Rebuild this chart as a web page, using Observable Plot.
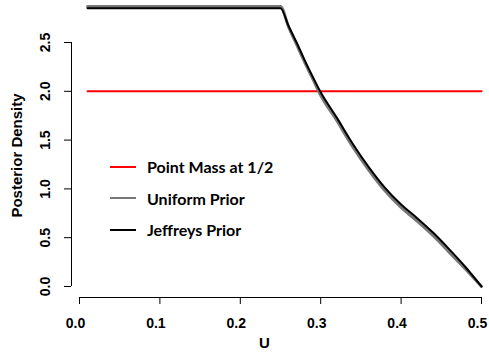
<!DOCTYPE html>
<html>
<head>
<meta charset="utf-8">
<script src="https://cdn.jsdelivr.net/npm/d3@7"></script>
<script src="https://cdn.jsdelivr.net/npm/@observablehq/plot@0.6"></script>
<style>
  html, body { margin: 0; padding: 0; background: #fff; }
  #wrap { position: relative; width: 489px; height: 353px; }
  #legend { position: absolute; left: 110px; top: 151px; font-family: Lato, "Liberation Sans", sans-serif;
            font-weight: bold; font-size: 16px; color: #000; }
  .row { display: flex; align-items: center; height: 31.5px; }
  .sw { width: 26px; height: 2px; margin-right: 11px; }
</style>
</head>
<body>
<div id="wrap"><div id="chart"></div><div id="legend"></div></div>
<script>
// Grid of U values
const uValues = [0.01, 0.25, 0.26, 0.27, 0.28, 0.29, 0.30, 0.32, 0.34, 0.36, 0.38, 0.40, 0.42, 0.44, 0.46, 0.48, 0.50];
// Posterior densities
const jeffreysDensity = [2.85, 2.85, 2.67, 2.50, 2.32, 2.15, 1.99, 1.73, 1.46, 1.22, 1.01, 0.84, 0.70, 0.55, 0.38, 0.20, 0.0];
const uniformDensity  = [2.87, 2.87, 2.66, 2.48, 2.30, 2.13, 1.96, 1.70, 1.43, 1.19, 0.98, 0.81, 0.67, 0.52, 0.35, 0.18, 0.0];
const pointMassU = [0.01, 0.5];
const pointMassDensity = [2.0, 2.0];

const xTicks = [0.0, 0.1, 0.2, 0.3, 0.4, 0.5];
const yTicks = [0.0, 0.5, 1.0, 1.5, 2.0, 2.5];

const legendLabels = ["Point Mass at 1/2", "Uniform Prior", "Jeffreys Prior"];
const legendColors = ["#ff0000", "#777777", "#000000"];

const uniform = uValues.map((u, i) => ({u, d: uniformDensity[i]}));
const jeffreys = uValues.map((u, i) => ({u, d: jeffreysDensity[i]}));
const pointMass = pointMassU.map((u, i) => ({u, d: pointMassDensity[i]}));

const font = "Liberation Sans, Arial, sans-serif";

const plot = Plot.plot({
  width: 489,
  height: 353,
  marginLeft: 79,
  marginRight: 8,
  marginTop: 42,
  marginBottom: 67,
  style: {fontFamily: font},
  x: {domain: [0, 0.5], axis: null},
  y: {domain: [0, 2.5], axis: null},
  marks: [
    // axis lines
    Plot.ruleX([0], {y1: 0, y2: 2.5, dx: -8, stroke: "#000", strokeWidth: 1}),
    Plot.ruleY([0], {x1: 0, x2: 0.5, dy: 11, stroke: "#000", strokeWidth: 1}),
    // ticks
    Plot.ruleY(yTicks, {y: d => d, x1: 0, x2: 0, insetLeft: -7, dx: -8, stroke: "#000"}),
    Plot.ruleX(xTicks, {x: d => d, y1: 0, y2: 0, insetBottom: -7, dy: 11, stroke: "#000"}),
    // tick labels
    Plot.text(yTicks, {y: d => d, text: d => d.toFixed(1), frameAnchor: "left", dx: -34, rotate: -90,
      textAnchor: "middle", fontSize: 14, fontWeight: "bold", fill: "#000"}),
    Plot.text(xTicks, {x: d => d, text: d => d.toFixed(1), frameAnchor: "bottom", dy: 41, dx: -4,
      textAnchor: "middle", fontSize: 14, fontWeight: "bold", fill: "#000"}),
    // axis titles
    Plot.text(["U"], {frameAnchor: "bottom", dx: -16, dy: 61, text: d => d, fontSize: 15, fontWeight: "bold", fill: "#000"}),
    Plot.text(["Posterior Density"], {frameAnchor: "left", dx: -62, dy: -9, rotate: -90, textAnchor: "middle",
      text: d => d, fontSize: 15, fontWeight: "bold", fill: "#000"}),
    // series
    Plot.line(pointMass, {x: "u", y: "d", stroke: "#ff0000", strokeWidth: 2}),
    Plot.line(uniform, {x: "u", y: "d", stroke: "#777777", strokeWidth: 3, curve: "monotone-x"}),
    Plot.line(jeffreys, {x: "u", y: "d", stroke: "#000000", strokeWidth: 2, curve: "monotone-x"})
  ]
});

document.getElementById("chart").appendChild(plot);

// Legend (HTML overlay inside the plot area)
const legend = document.getElementById("legend");
legendLabels.forEach((label, i) => {
  const row = document.createElement("div");
  row.className = "row";
  const sw = document.createElement("span");
  sw.className = "sw";
  sw.style.background = legendColors[i];
  const tx = document.createElement("span");
  tx.textContent = label;
  row.appendChild(sw);
  row.appendChild(tx);
  legend.appendChild(row);
});
</script>
</body>
</html>
